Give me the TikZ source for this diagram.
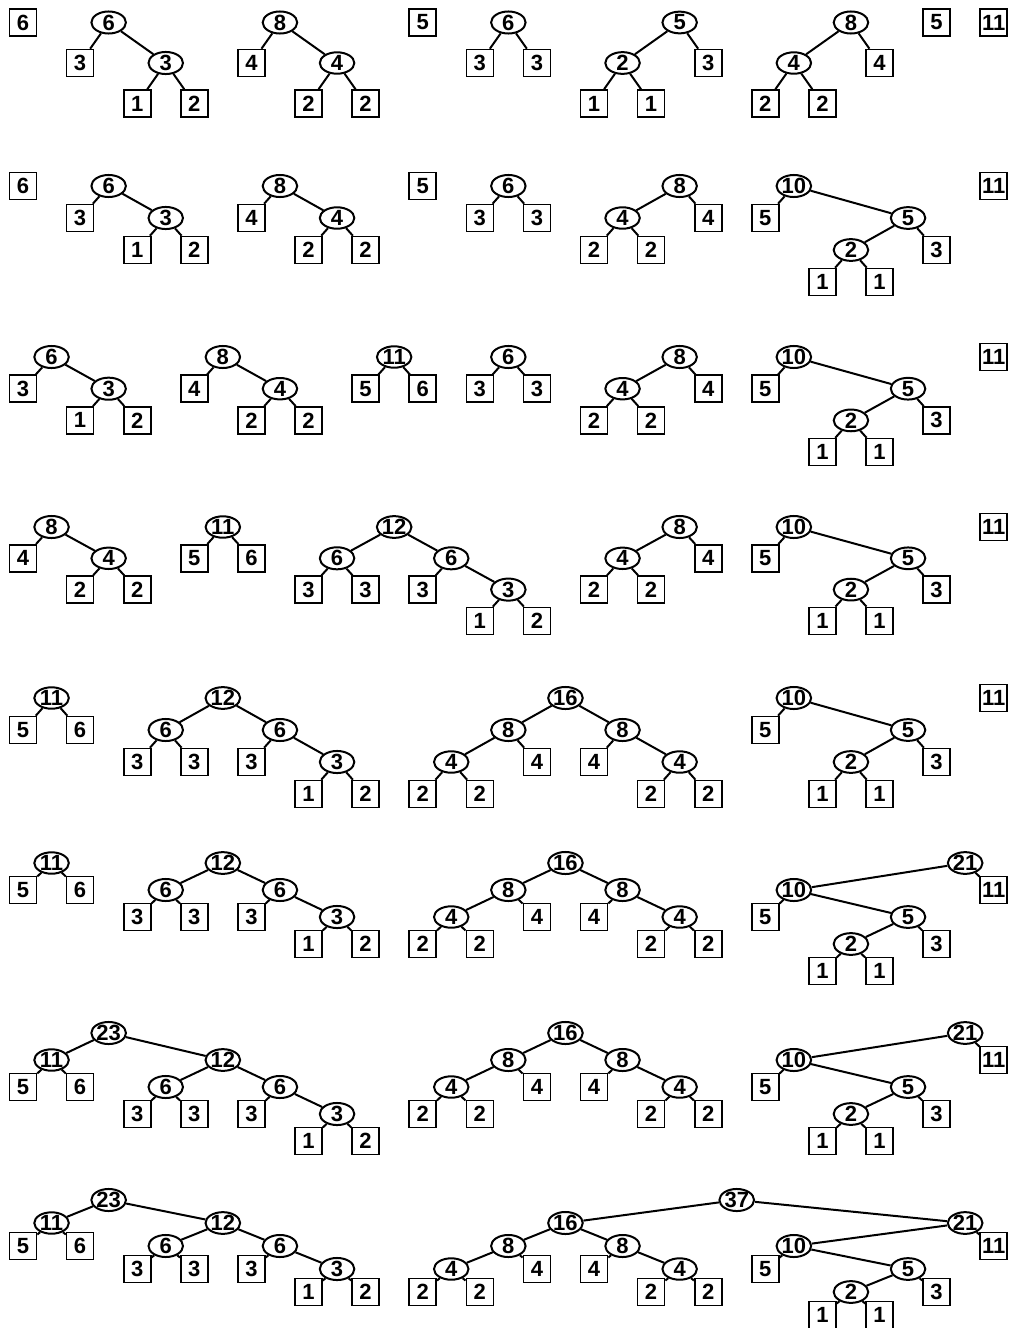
\documentclass[tikz,border=0pt]{standalone}
\usepackage{fontspec}
\setmainfont{Liberation Sans}[BoldFont={* Bold}]
\usetikzlibrary{shapes.geometric}
\tikzset{
  leafbox/.style={draw,line width=1.6pt,fill=white,minimum size=27pt,inner sep=0pt,
    font=\fontsize{22}{22}\selectfont\bfseries},
  sumnode/.style={ellipse,draw,line width=2pt,fill=white,minimum width=34.5pt,
    minimum height=21pt,inner sep=0pt,font=\fontsize{22}{22}\selectfont\bfseries},
  link/.style={line width=2pt},
  pics/duo/.style n args={3}{code={
    \node[sumnode] (-r) at (0.5,0) {#1};
    \node[leafbox] (-a) at (0,1) {#2};
    \node[leafbox] (-b) at (1,1) {#3};
    \draw[link] (-r)--(-a) (-r)--(-b);
  }},
  pics/leafpair/.style n args={5}{code={
    \node[sumnode] (-r) at (0.5,0) {#1};
    \node[leafbox] (-a) at (0,1) {#2};
    \pic (-b) at (1,1) {duo={#3}{#4}{#5}};
    \draw[link] (-r)--(-a) (-r)--(-b-r);
  }},
  pics/pairleaf/.style n args={5}{code={
    \node[sumnode] (-r) at (1.5,0) {#1};
    \pic (-a) at (0,1) {duo={#2}{#3}{#4}};
    \node[leafbox] (-b) at (2,1) {#5};
    \draw[link] (-r)--(-a-r) (-r)--(-b);
  }},
  pics/ten/.style={code={
    \node[sumnode] (-r) at (0.5,0) {10};
    \node[leafbox] (-a) at (0,1) {5};
    \pic (-b) at (1,1) {pairleaf={5}{2}{1}{1}{3}};
    \draw[link] (-r)--(-a) (-r)--(-b-r);
  }},
  pics/twelve/.style={code={
    \node[sumnode] (-r) at (1.5,0) {12};
    \pic (-a) at (0,1) {duo={6}{3}{3}};
    \pic (-b) at (2,1) {leafpair={6}{3}{3}{1}{2}};
    \draw[link] (-r)--(-a-r) (-r)--(-b-r);
  }},
  pics/sixteen/.style={code={
    \node[sumnode] (-r) at (2.5,0) {16};
    \pic (-a) at (0,1) {pairleaf={8}{4}{2}{2}{4}};
    \pic (-b) at (3,1) {leafpair={8}{4}{4}{2}{2}};
    \draw[link] (-r)--(-a-r) (-r)--(-b-r);
  }},
  pics/twentyone/.style={code={
    \node[sumnode] (-r) at (3.5,0) {21};
    \pic (-a) at (0,1) {ten};
    \node[leafbox] (-b) at (4,1) {11};
    \draw[link] (-r)--(-a-r) (-r)--(-b);
  }},
  pics/twentythree/.style={code={
    \node[sumnode] (-r) at (1.5,0) {23};
    \pic (-a) at (0,1) {duo={11}{5}{6}};
    \pic (-b) at (2,1) {twelve};
    \draw[link] (-r)--(-a-r) (-r)--(-b-r);
  }},
  pics/thirtyseven/.style={code={
    \node[sumnode] (-r) at (5.5,0) {37};
    \pic (-a) at (0,1) {sixteen};
    \pic (-b) at (6,1) {twentyone};
    \draw[link] (-r)--(-a-r) (-r)--(-b-r);
  }}
}

\begin{document}
\begin{tikzpicture}
  \useasboundingbox (0,0) rectangle (1010pt,-1328pt);
  % row 1
  \begin{scope}[shift={(23pt,-22.5pt)},x=57.1pt,y=-40.5pt,name prefix=r1-]
    \node[leafbox] (a) at (0,0) {6};
    \pic (b) at (1,0) {leafpair={6}{3}{3}{1}{2}};
    \pic (c) at (4,0) {leafpair={8}{4}{4}{2}{2}};
    \node[leafbox] (d) at (7,0) {5};
    \pic (e) at (8,0) {duo={6}{3}{3}};
    \pic (f) at (10,0) {pairleaf={5}{2}{1}{1}{3}};
    \pic (g) at (13,0) {pairleaf={8}{4}{2}{2}{4}};
    \node[leafbox] (h) at (16,0) {5};
    \node[leafbox] (i) at (17,0) {11};
  \end{scope}
  % row 2
  \begin{scope}[shift={(23pt,-186pt)},x=57.1pt,y=-32pt,name prefix=r2-]
    \node[leafbox] (a) at (0,0) {6};
    \pic (b) at (1,0) {leafpair={6}{3}{3}{1}{2}};
    \pic (c) at (4,0) {leafpair={8}{4}{4}{2}{2}};
    \node[leafbox] (d) at (7,0) {5};
    \pic (e) at (8,0) {duo={6}{3}{3}};
    \pic (f) at (10,0) {pairleaf={8}{4}{2}{2}{4}};
    \pic (g) at (13,0) {ten};
    \node[leafbox] (h) at (17,0) {11};
  \end{scope}
  % row 3
  \begin{scope}[shift={(23pt,-357pt)},x=57.1pt,y=-31.7pt,name prefix=r3-]
    \pic (a) at (0,0) {leafpair={6}{3}{3}{1}{2}};
    \pic (b) at (3,0) {leafpair={8}{4}{4}{2}{2}};
    \pic (c) at (6,0) {duo={11}{5}{6}};
    \pic (d) at (8,0) {duo={6}{3}{3}};
    \pic (e) at (10,0) {pairleaf={8}{4}{2}{2}{4}};
    \pic (f) at (13,0) {ten};
    \node[leafbox] (g) at (17,0) {11};
  \end{scope}
  % row 4
  \begin{scope}[shift={(23pt,-527pt)},x=57.1pt,y=-31.3pt,name prefix=r4-]
    \pic (a) at (0,0) {leafpair={8}{4}{4}{2}{2}};
    \pic (b) at (3,0) {duo={11}{5}{6}};
    \pic (c) at (5,0) {twelve};
    \pic (d) at (10,0) {pairleaf={8}{4}{2}{2}{4}};
    \pic (e) at (13,0) {ten};
    \node[leafbox] (f) at (17,0) {11};
  \end{scope}
  % row 5
  \begin{scope}[shift={(23pt,-698pt)},x=57.1pt,y=-32pt,name prefix=r5-]
    \pic (a) at (0,0) {duo={11}{5}{6}};
    \pic (b) at (2,0) {twelve};
    \pic (c) at (7,0) {sixteen};
    \pic (d) at (13,0) {ten};
    \node[leafbox] (e) at (17,0) {11};
  \end{scope}
  % row 6
  \begin{scope}[shift={(23pt,-863pt)},x=57.1pt,y=-27pt,name prefix=r6-]
    \pic (a) at (0,0) {duo={11}{5}{6}};
    \pic (b) at (2,0) {twelve};
    \pic (c) at (7,0) {sixteen};
    \pic (d) at (13,0) {twentyone};
  \end{scope}
  % row 7
  \begin{scope}[shift={(23pt,-1033pt)},x=57.1pt,y=-27pt,name prefix=r7-]
    \pic (a) at (0,0) {twentythree};
    \pic (b) at (7,0) {sixteen};
    \pic (c) at (13,0) {twentyone};
  \end{scope}
  % row 8
  \begin{scope}[shift={(23pt,-1200pt)},x=57.1pt,y=-23pt,name prefix=r8-]
    \pic (a) at (0,0) {twentythree};
    \pic (b) at (7,0) {thirtyseven};
  \end{scope}
\end{tikzpicture}
\end{document}
